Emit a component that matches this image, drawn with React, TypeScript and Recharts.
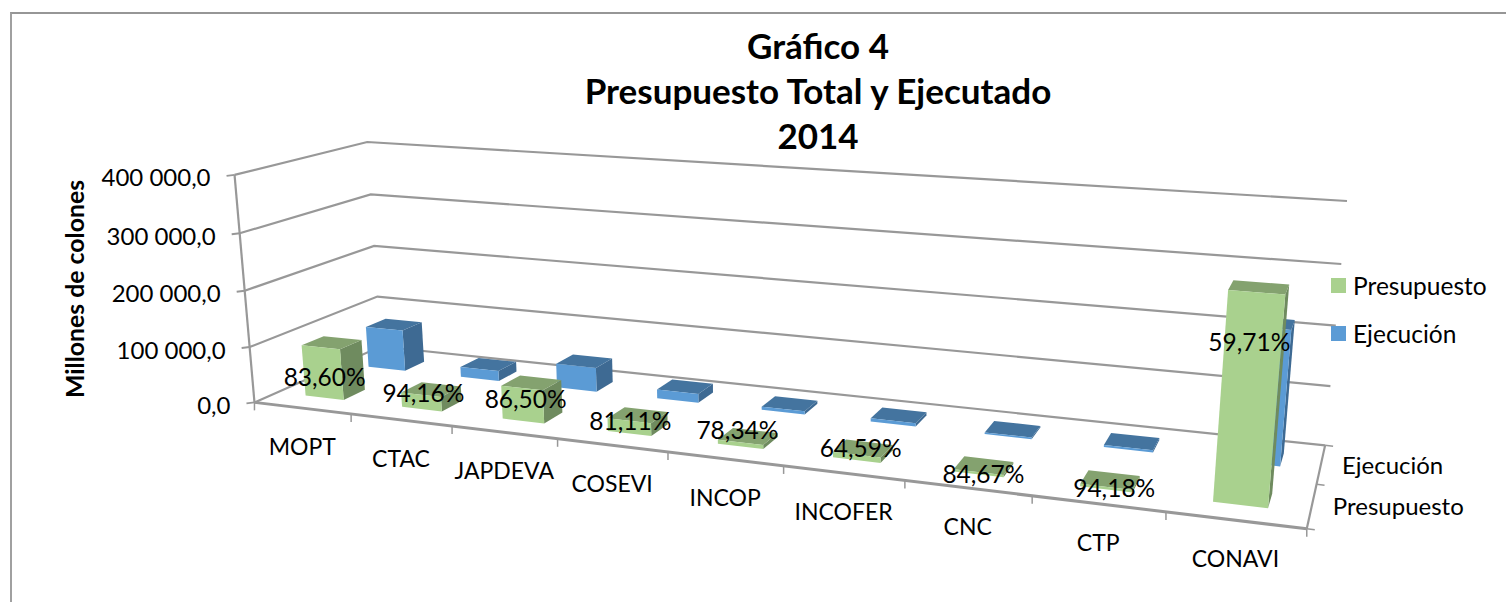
import React from "react"
import { BarChart, Bar, XAxis, YAxis, Legend, LabelList, ReferenceLine, Customized } from "recharts"

const categories = ["MOPT", "CTAC", "JAPDEVA", "COSEVI", "INCOP", "INCOFER", "CNC", "CTP", "CONAVI"]
const presupuesto = [92000, 26000, 58000, 22000, 7000, 9000, 3500, 4000, 320000]
const ejecucion = [77000, 18800, 44000, 16200, 5500, 5800, 3000, 3800, 220000]
const porcentajes = ["83,60%", "94,16%", "86,50%", "81,11%", "78,34%", "64,59%", "84,67%", "94,18%", "59,71%"]
const yTicks = [0, 100000, 200000, 300000, 400000]
const seriesNames = ["Presupuesto", "Ejecución"]

const data = categories.map((name, i) => ({
  name,
  Presupuesto: presupuesto[i],
  Ejecución: ejecucion[i],
  pct: porcentajes[i],
}))

const W = 1506
const H = 602
// plot area inside the chart: both axes keep a 1px band
const PLOT_W = W - 1
const PLOT_H = H - 1
const BAR_SIZE = (0.4 * PLOT_W) / categories.length
const FONT = "Lato, sans-serif"
const FONT_SIZE = 24.5
const GRID = "#989898"
const TEXT = "#000"

// the percent labels were placed by hand in the original, px from the foot of each bar
const labelLift = [21, 17, 22, 13, 17, 13, 1, 2, 164]
const labelShift = [2, 2, 3, 1, -3, 4, 5, 8, 1]

// camera fitted to the picture: [along categories, depth, height] -> screen
const anchors: number[][] = [
  [0, 0, 0, 255, 403],
  [0, 0, 0.25, 249, 347],
  [0, 0, 0.5, 244, 291],
  [0, 0, 0.75, 240, 233],
  [0, 0, 1, 235, 175],
  [0, 1, 0, 381, 346],
  [0, 1, 1, 367, 142],
  [1, 1, 0, 1325, 446],
  [1, 1, 1, 1347, 201],
  [1, 0, 0, 1307, 528],
  [2 / 9, 0, 0, 452, 426],
  [4 / 9, 0, 0, 668, 452],
  [7 / 9, 0, 0, 1032, 496],
]

function fitCamera() {
  const rows: number[][] = []
  for (const [a, b, c, sx, sy] of anchors) {
    const x = sx / 1000
    const y = sy / 1000
    rows.push([a, b, c, 1, 0, 0, 0, 0, -x * a, -x * b, -x * c, x])
    rows.push([0, 0, 0, 0, a, b, c, 1, -y * a, -y * b, -y * c, y])
  }
  const n = 11
  const m: number[][] = []
  for (let i = 0; i < n; i++) {
    const row = new Array(n + 1).fill(0)
    for (let j = 0; j <= n; j++) {
      for (const r of rows) row[j] += r[i] * r[j]
    }
    m.push(row)
  }
  for (let i = 0; i < n; i++) {
    let best = i
    for (let k = i + 1; k < n; k++) if (Math.abs(m[k][i]) > Math.abs(m[best][i])) best = k
    const tmp = m[i]
    m[i] = m[best]
    m[best] = tmp
    for (let k = 0; k < n; k++) {
      if (k === i) continue
      const f = m[k][i] / m[i][i]
      for (let j = i; j <= n; j++) m[k][j] -= f * m[i][j]
    }
  }
  return m.map((row, i) => row[n] / row[i])
}

const cam = fitCamera()

function project(u: number, w: number, h: number) {
  const d = cam[8] * u + cam[9] * w + cam[10] * h + 1
  return {
    x: (1000 * (cam[0] * u + cam[1] * w + cam[2] * h + cam[3])) / d,
    y: (1000 * (cam[4] * u + cam[5] * w + cam[6] * h + cam[7])) / d,
  }
}

const toU = (x: number) => (x - (W - PLOT_W)) / PLOT_W
const toH = (y: number) => (PLOT_H - y) / PLOT_H

function poly(points: { x: number; y: number }[]) {
  return points.map((p) => `${p.x.toFixed(1)},${p.y.toFixed(1)}`).join(" ")
}

const DEPTH_PRES: [number, number] = [1 / 6, 2 / 6]
const DEPTH_EJEC: [number, number] = [4 / 6, 5 / 6]

function makeBox(depth: [number, number], front: string, top: string, side: string) {
  return function Box(props: any) {
    const { x, y, width, height } = props
    const u0 = toU(x)
    const u1 = toU(x + width)
    const h = toH(Math.min(y, y + height))
    const [w0, w1] = depth
    const f00 = project(u0, w0, 0)
    const f10 = project(u1, w0, 0)
    const f01 = project(u0, w0, h)
    const f11 = project(u1, w0, h)
    const b10 = project(u1, w1, 0)
    const b01 = project(u0, w1, h)
    const b11 = project(u1, w1, h)
    return (
      <g>
        <polygon points={poly([f10, b10, b11, f11])} fill={side} />
        <polygon points={poly([f01, f11, b11, b01])} fill={top} />
        <polygon points={poly([f00, f10, f11, f01])} fill={front} />
      </g>
    )
  }
}

const PresBox = makeBox(DEPTH_PRES, "#A9D18E", "#84A26F", "#6F8B5F")
const EjecBox = makeBox(DEPTH_EJEC, "#5B9BD5", "#44749F", "#3E6A93")

function PctLabel(props: any) {
  const vb = props.viewBox ?? props
  const { x, y, width, height } = vb
  const mid = toU(x + width / 2)
  const h = toH(Math.min(y, y + height))
  const bottom = project(mid, DEPTH_PRES[0], 0)
  const half = project(mid, DEPTH_PRES[0], h / 2)
  const i = porcentajes.indexOf(props.value)
  return (
    <text x={half.x + labelShift[i]} y={bottom.y - labelLift[i]} textAnchor="middle" dominantBaseline="central" fontFamily={FONT} fontSize={FONT_SIZE} fill={TEXT}>
      {props.value}
    </text>
  )
}

function CategoryTick(props: any) {
  const p = project(toU(props.x), 0, 0)
  return (
    <text x={p.x} y={p.y + 38} textAnchor="middle" dominantBaseline="central" fontFamily={FONT} fontSize={23} fill={TEXT}>
      {props.payload.value}
    </text>
  )
}

function formatValue(v: number) {
  const s = v === 0 ? "0" : `${Math.round(v / 1000)} 000`
  return `${s},0`
}

function ValueTick(props: any) {
  const p = project(0, 0, toH(props.y))
  return (
    <g>
      <line x1={p.x - 8} y1={p.y + 1} x2={p.x} y2={p.y} stroke={GRID} strokeWidth={2} />
      <text x={p.x - 24} y={p.y + 2} textAnchor="end" dominantBaseline="central" fontFamily={FONT} fontSize={24} fill={TEXT}>
        {formatValue(props.payload.value)}
      </text>
    </g>
  )
}

function WallLine(props: any) {
  const h = toH(props.y1)
  const a = project(0, 0, h)
  const b = project(0, 1, h)
  const c = project(1, 1, h)
  return <polyline points={poly([a, b, c])} fill="none" stroke={GRID} strokeWidth={2.2} />
}

// floor edges, walls' verticals, tick marks and the depth axis
function Frame() {
  const edges = [
    [project(0, 0, 0), project(0, 0, 1), 2.2],
    [project(0, 0, 0), project(1, 0, 0), 3],
    [project(1, 0, 0), project(1, 1, 0), 2.2],
  ] as any[]
  const marks = categories.map((_, i) => project((i + 1) / categories.length, 0, 0))
  return (
    <g>
      {edges.map((e, i) => (
        <line key={i} x1={e[0].x} y1={e[0].y} x2={e[1].x} y2={e[1].y} stroke={GRID} strokeWidth={e[2]} />
      ))}
      {[project(0, 0, 0), ...marks].map((p, i) => (
        <line key={i} x1={p.x} y1={p.y} x2={p.x} y2={p.y + 8} stroke={GRID} strokeWidth={1.5} />
      ))}
      {[0, 0.5, 1].map((w) => {
        const p = project(1, w, 0)
        return <line key={w} x1={p.x} y1={p.y} x2={p.x + 8} y2={p.y + 1} stroke={GRID} strokeWidth={1.5} />
      })}
      {seriesNames.map((name, i) => {
        const p = project(1, 0.25 + i * 0.5, 0)
        return (
          <text key={name} x={p.x + 21} y={p.y} dominantBaseline="central" fontFamily={FONT} fontSize={24} fill={TEXT}>
            {name}
          </text>
        )
      })}
      <text transform="translate(74 289) rotate(-90)" textAnchor="middle" dominantBaseline="central" fontFamily={FONT} fontWeight={700} fontSize={24.8} fill={TEXT}>
        Millones de colones
      </text>
    </g>
  )
}

function LegendBox({ payload }: any) {
  const items = [...(payload ?? [])].sort((a, b) => seriesNames.indexOf(a.value) - seriesNames.indexOf(b.value))
  return (
    <div style={{ position: "relative", fontFamily: FONT, fontSize: FONT_SIZE, color: TEXT }}>
      {items.map((it: any, i: number) => (
        <div key={it.value} style={{ position: "absolute", top: i * 48, left: 0, height: 30, lineHeight: "30px", whiteSpace: "nowrap" }}>
          <span style={{ position: "absolute", left: 0, top: 7, width: 15, height: 15, background: it.color }} />
          <span style={{ position: "absolute", left: 22, top: 0 }}>{it.value}</span>
        </div>
      ))}
    </div>
  )
}

const titleLines = ["Gráfico 4", "Presupuesto Total y Ejecutado", "2014"]

export default function App() {
  return (
    <div style={{ position: "absolute", left: 0, top: 0, width: W, height: H, overflow: "hidden", background: "#fff" }}>
      <div style={{ position: "absolute", left: 10, top: 12, width: 1500, height: 600, borderLeft: "2px solid #a0a0a0", borderTop: "2px solid #969696" }} />
      {titleLines.map((line, i) => (
        <div key={line} style={{ position: "absolute", left: 318, width: 1000, top: 22 + i * 45, height: 46, lineHeight: "46px", textAlign: "center", fontFamily: FONT, fontWeight: 700, fontSize: 35, color: "#000" }}>
          {line}
        </div>
      ))}
      <div style={{ position: "absolute", left: 0, top: 0 }}>
        <BarChart width={W} height={H} data={data} margin={{ top: 0, right: 0, bottom: 0, left: 0 }} barSize={BAR_SIZE} barGap={-BAR_SIZE}>
          <XAxis dataKey="name" height={1} interval={0} axisLine={false} tickLine={false} tick={CategoryTick} />
          <YAxis width={1} domain={[0, 400000]} ticks={yTicks} interval={0} axisLine={false} tickLine={false} tick={ValueTick} />
          {yTicks.map((t) => (
            <ReferenceLine key={t} y={t} shape={WallLine} zIndex={-100} />
          ))}
          <Customized component={Frame} />
          <Bar dataKey="Ejecución" fill="#5B9BD5" shape={EjecBox} isAnimationActive={false} />
          <Bar dataKey="Presupuesto" fill="#A9D18E" shape={PresBox} isAnimationActive={false}>
            <LabelList dataKey="pct" content={PctLabel} />
          </Bar>
          <Legend layout="vertical" align="center" verticalAlign="middle" width={150} wrapperStyle={{ left: 1331, top: 271 }} content={LegendBox} />
        </BarChart>
      </div>
    </div>
  )
}
